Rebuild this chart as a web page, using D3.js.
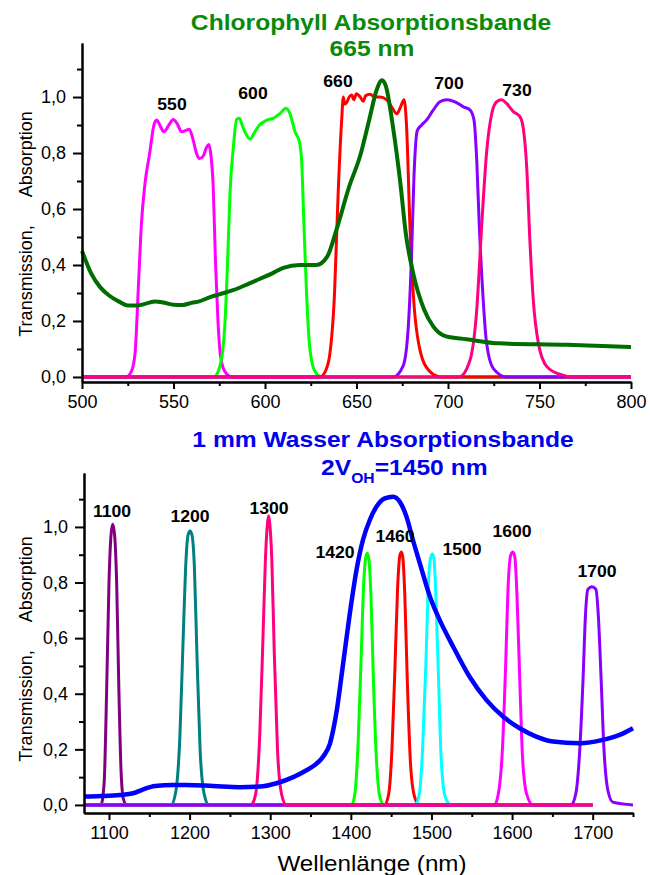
<!DOCTYPE html>
<html>
<head>
<meta charset="utf-8">
<script src="https://cdn.jsdelivr.net/npm/d3@7"></script>
<style>
  body { margin: 0; background: white; }
  svg { font-family: "Liberation Sans", Arial, sans-serif; }
</style>
</head>
<body>
<svg id="chart" width="650" height="875"></svg>
<script>
// ---- top panel: chlorophyll + VIS filters ----
var visLabels = ["550", "600", "660", "700", "730"];
var visColors = ["#ff00ff", "#00ff00", "#ff0000", "#8800ff", "#ff0080"];
var visLabelPos = [[172, 110], [253, 99], [338, 87], [449, 89], [517, 96]];

var filter550 = [[500,0],[524,0],[527,0.02],[529,0.085],[531,0.35],[532.5,0.55],[534.4,0.69],[537,0.80],[539.3,0.90],[540.8,0.918],[542.5,0.9],[544.8,0.876],[547.5,0.9],[549.9,0.92],[552,0.905],[554.4,0.876],[556.5,0.88],[558.6,0.885],[560.8,0.845],[562.5,0.8],[564.1,0.78],[566.3,0.79],[568,0.82],[569.3,0.83],[570.3,0.8],[571.7,0.68],[573,0.4],[574.3,0.2],[575.6,0.08],[578,0.02],[582,0],[800,0]];
var filter600 = [[500,0],[572,0],[575.4,0.04],[578,0.18],[579.5,0.4],[580.9,0.66],[582.7,0.82],[584.5,0.92],[586,0.924],[587.5,0.9],[589,0.876],[591.8,0.85],[594.5,0.876],[597,0.9],[599,0.91],[602,0.92],[604.5,0.924],[608,0.94],[611.5,0.96],[613.7,0.94],[616.4,0.876],[618.8,0.84],[620,0.775],[621.3,0.54],[622.7,0.30],[624.6,0.096],[627.3,0.02],[631,0],[800,0]];
var filter660 = [[500,0],[630,0],[633,0.02],[635.5,0.085],[638,0.30],[640,0.66],[641.9,0.918],[642.8,1.0],[643.5,0.975],[644.6,0.98],[646,1.0],[647.4,1.007],[648.5,0.99],[650,1.012],[652,1.0],[653.7,0.985],[655,1.005],[657.4,1.01],[660,1.0],[662.8,1.0],[666.5,0.99],[669.2,0.965],[672,0.94],[673.8,0.96],[676,0.99],[677.4,0.89],[679.2,0.54],[681,0.30],[684.7,0.096],[690,0.02],[696,0],[800,0]];
var filter700 = [[500,0],[670,0],[675.5,0.04],[678.3,0.18],[680,0.42],[681.4,0.715],[683.2,0.88],[685.6,0.90],[688.3,0.918],[692,0.954],[695.6,0.983],[699.3,0.99],[703.8,0.983],[708.4,0.965],[712,0.954],[714.2,0.918],[715.7,0.775],[717.1,0.54],[719,0.30],[721.1,0.12],[724.8,0.03],[732,0],[800,0]];
var filter730 = [[500,0],[706,0],[712,0.06],[715.7,0.24],[718.4,0.54],[721.2,0.81],[723.9,0.94],[726.6,0.983],[729.3,0.99],[732,0.977],[735.7,0.948],[739.3,0.93],[741.1,0.89],[743,0.75],[744.8,0.48],[746.6,0.275],[749.4,0.12],[754,0.037],[761,0.01],[768,0],[800,0]];
var chlorophyll = [[500,0.45],[505,0.37],[510,0.32],[515,0.29],[520,0.27],[525,0.255],[530,0.255],[535,0.262],[540,0.27],[545,0.265],[550,0.258],[555,0.257],[560,0.265],[564,0.27],[570,0.285],[575,0.295],[582.5,0.31],[590,0.33],[597,0.35],[604,0.37],[610,0.39],[619,0.40],[628,0.40],[634,0.43],[639,0.525],[646,0.68],[652,0.79],[657,0.92],[661,1.025],[664,1.06],[666,1.04],[670,0.89],[674,0.69],[677,0.51],[681,0.37],[687,0.24],[692,0.18],[699,0.145],[710,0.135],[728,0.12],[765,0.115],[800,0.107]];

// ---- bottom panel: water + NIR filters ----
var nirLabels = ["1100", "1200", "1300", "1420", "1460", "1500", "1600", "1700"];
var nirColors = ["#800080", "#008080", "#ff0080", "#00ff00", "#ff0000", "#00ffff", "#ff00ff", "#8800ff"];
var nirLabelPos = [[112, 517], [190, 522], [269, 514], [335, 558], [395, 542], [462, 555], [512, 537], [597, 577]];

var filter1100 = [[1069,0],[1090,0],[1094,0.08],[1097,0.4],[1100,0.8],[1102.5,0.97],[1104.6,1.01],[1107,0.97],[1109.5,0.8],[1112,0.45],[1115,0.12],[1118,0.02],[1122,0],[1700,0]];
var filter1200 = [[1069,0],[1177,0],[1183,0.05],[1188,0.25],[1192,0.6],[1195,0.85],[1198,0.97],[1200.5,0.985],[1203,0.97],[1206,0.85],[1209,0.55],[1213,0.2],[1218,0.04],[1224,0],[1700,0]];
var filter1300 = [[1277,0],[1282,0.04],[1287,0.25],[1291,0.6],[1294,0.88],[1296.5,1.01],[1298,1.04],[1299.5,1.01],[1302,0.88],[1305,0.55],[1309,0.2],[1314,0.04],[1320,0],[1700,0]];
var filter1420 = [[1069,0],[1401,0],[1405,0.04],[1409,0.22],[1413,0.55],[1416,0.8],[1418.5,0.89],[1420.5,0.905],[1422.5,0.88],[1425,0.75],[1428,0.45],[1432,0.15],[1436,0.03],[1441,0],[1700,0]];
var filter1460 = [[1069,0],[1442,0],[1447,0.04],[1451,0.2],[1455,0.52],[1458,0.78],[1461,0.9],[1462.8,0.91],[1464.5,0.89],[1467,0.75],[1470,0.45],[1474,0.15],[1479,0.03],[1485,0],[1700,0]];
var filter1500 = [[1069,0],[1480,0],[1485,0.04],[1489,0.2],[1493,0.5],[1496,0.78],[1499,0.89],[1501.2,0.903],[1503,0.89],[1505.5,0.75],[1508.5,0.48],[1512,0.17],[1517,0.03],[1524,0],[1700,0]];
var filter1600 = [[1069,0],[1578,0],[1583,0.04],[1588,0.2],[1592,0.5],[1595,0.78],[1598.5,0.9],[1601.2,0.91],[1603.5,0.89],[1606,0.76],[1609,0.5],[1613,0.17],[1618,0.04],[1626,0],[1700,0]];
var filter1700 = [[1069,0],[1673,0],[1679,0.04],[1684,0.2],[1688,0.45],[1691,0.68],[1694,0.775],[1699,0.785],[1704,0.775],[1707,0.68],[1710.5,0.45],[1714,0.2],[1719,0.05],[1725,0.01],[1750,0]];
var water = [[1069,0.03],[1090,0.032],[1113.6,0.036],[1130,0.042],[1142.5,0.056],[1157,0.068],[1179.7,0.072],[1196.3,0.072],[1229.3,0.068],[1262.4,0.064],[1287,0.066],[1307.9,0.078],[1328.5,0.10],[1345,0.125],[1356,0.145],[1366,0.175],[1374,0.22],[1382,0.33],[1390.5,0.51],[1398.8,0.69],[1407,0.845],[1415,0.953],[1423.5,1.025],[1431.8,1.073],[1442,1.103],[1452.5,1.109],[1460.7,1.091],[1469,1.037],[1477,0.953],[1485.5,0.87],[1498,0.75],[1510.3,0.665],[1526.8,0.57],[1547.5,0.46],[1568,0.378],[1588.8,0.318],[1609.5,0.276],[1630,0.246],[1650.8,0.228],[1683.8,0.222],[1712.7,0.234],[1733.4,0.252],[1750,0.276]];

var yMajor = [0, 0.2, 0.4, 0.6, 0.8, 1.0];
var yMinor = [0.1, 0.3, 0.5, 0.7, 0.9, 1.1];
var topXMajor = [500, 550, 600, 650, 700, 750, 800];
var topXMinor = [525, 575, 625, 675, 725, 775];
var botXMajor = [1100, 1200, 1300, 1400, 1500, 1600, 1700];
var botXMinor = [1150, 1250, 1350, 1450, 1550, 1650, 1750];

var svg = d3.select('#chart');
svg.append('rect').attr('width', 650).attr('height', 875).attr('fill', 'white');

var fmt = d => d.toFixed(1).replace('.', ',');

function drawAxes(xs, ys, xMajor, xMinor) {
    var y0 = ys.range()[0], x0 = xs.range()[0];
    // minor ticks first, then labelled majors
    svg.append('g').attr('class', 'axis').attr('transform', 'translate(0,' + y0 + ')')
        .call(d3.axisBottom(xs).tickValues(xMinor).tickSize(4).tickSizeOuter(0).tickFormat(''));
    svg.append('g').attr('class', 'axis').attr('transform', 'translate(0,' + y0 + ')')
        .call(d3.axisBottom(xs).tickValues(xMajor).tickSize(7).tickPadding(6).tickSizeOuter(0).tickFormat(d3.format('d')));
    svg.append('g').attr('class', 'axis').attr('transform', 'translate(' + x0 + ',0)')
        .call(d3.axisLeft(ys).tickValues(yMinor).tickSize(5).tickSizeOuter(0).tickFormat(''));
    svg.append('g').attr('class', 'axis').attr('transform', 'translate(' + x0 + ',0)')
        .call(d3.axisLeft(ys).tickValues(yMajor).tickSize(9).tickPadding(7).tickSizeOuter(0).tickFormat(fmt));
}

function drawCurve(xs, ys, data, color, width) {
    var line = d3.line().x(d => xs(d[0])).y(d => ys(d[1])).curve(d3.curveMonotoneX);
    svg.append('path').datum(data)
        .attr('d', line)
        .attr('fill', 'none')
        .attr('stroke', color)
        .attr('stroke-width', width)
        .attr('stroke-linejoin', 'round');
}

// text drawn a little wider, like the original
function addText(x, y, txt, size, weight, color, sx) {
    return svg.append('text')
        .attr('transform', 'translate(' + x + ',' + y + ') scale(' + sx + ',1)')
        .attr('text-anchor', 'middle')
        .style('font-size', size + 'px')
        .style('font-weight', weight)
        .attr('fill', color)
        .text(txt);
}

function yLabel(cy) {
    var t = svg.append('text')
        .attr('transform', 'translate(32,' + cy + ') rotate(-90)')
        .attr('text-anchor', 'middle')
        .style('font-size', '18px');
    t.append('tspan').text('Transmission,');
    t.append('tspan').attr('dx', 28).text('Absorption');
}

// ---------- top ----------
var xTop = d3.scaleLinear().domain([500, 800]).range([82, 631]);
var yTop = d3.scaleLinear().domain([-0.018, 1.193]).range([382, 43]);

[filter550, filter600, filter660, filter700, filter730].forEach(function(s, i) {
    drawCurve(xTop, yTop, s, visColors[i], 3);
});
drawCurve(xTop, yTop, chlorophyll, '#006d00', 4);
drawAxes(xTop, yTop, topXMajor, topXMinor);

visLabels.forEach(function(l, i) {
    addText(visLabelPos[i][0], visLabelPos[i][1], l, 16, 'bold', 'black', 1.1);
});
addText(371, 30, 'Chlorophyll Absorptionsbande', 22, 'bold', '#0a8a0a', 1.12);
addText(372, 56, '665 nm', 22, 'bold', '#0a8a0a', 1.12);
yLabel(224);

// ---------- bottom ----------
var xBot = d3.scaleLinear().domain([1069, 1750]).range([84, 633]);
var yBot = d3.scaleLinear().domain([-0.029, 1.194]).range([813, 473]);

var nirSeries = [filter1100, filter1200, filter1300, filter1420, filter1460, filter1500, filter1600, filter1700];
var drawOrder = [0, 1, 3, 4, 5, 6, 7, 2];  // pink 1300 baseline sits on top
drawOrder.forEach(function(i) {
    drawCurve(xBot, yBot, nirSeries[i], nirColors[i], 3);
});
drawCurve(xBot, yBot, water, '#0000ff', 4.5);
drawAxes(xBot, yBot, botXMajor, botXMinor);

nirLabels.forEach(function(l, i) {
    addText(nirLabelPos[i][0], nirLabelPos[i][1], l, 16, 'bold', 'black', 1.1);
});
addText(383, 447, '1 mm Wasser Absorptionsbande', 22, 'bold', '#0000ee', 1.12);

var sub = svg.append('text')
    .attr('transform', 'translate(321,475) scale(1.12,1)')
    .style('font-size', '22px')
    .style('font-weight', 'bold')
    .attr('fill', '#0000ee');
sub.append('tspan').text('2V');
sub.append('tspan').attr('dy', 8).style('font-size', '14px').text('OH');
sub.append('tspan').attr('dy', -8).text('=1450 nm');

yLabel(649);
addText(372, 871, 'Wellenlänge (nm)', 22, 'normal', 'black', 1.1);

svg.selectAll('.axis path, .axis line').attr('stroke', 'black').attr('stroke-width', 2);
svg.selectAll('.axis text').style('font-size', '18px').style('font-family', '"Liberation Sans", Arial, sans-serif').attr('fill', 'black');
</script>
</body>
</html>
